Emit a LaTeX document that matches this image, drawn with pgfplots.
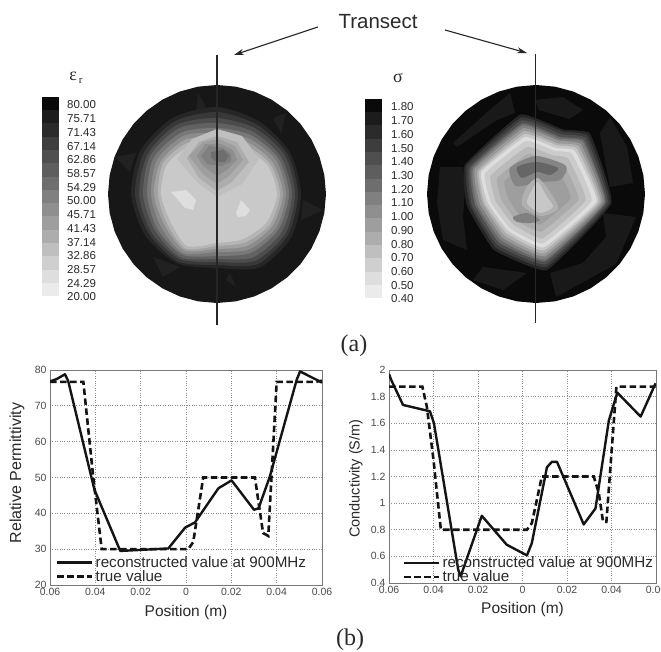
\documentclass[border=0pt]{standalone}
\usepackage{fontspec}
\setmainfont{Liberation Sans}
\newfontfamily\serifgr{Liberation Serif}
\usepackage{pgfplots}
\usetikzlibrary{arrows.meta}
\pgfplotsset{compat=1.18}
\definecolor{txt}{HTML}{2A2A2A}
\definecolor{axc}{HTML}{777777}
\pgfplotsset{
 discax/.style={scale only axis,width=218pt,height=218pt,anchor=south west,hide axis,
   xmin=-109,xmax=109,ymin=-109,ymax=109,clip=false},
 lay/.style={fill=black!#1,draw=none,smooth cycle,tension=0.45},
 pol/.style={fill=black!#1,draw=none,data cs=polar,smooth cycle,tension=0.45},
 pols/.style={fill=black!#1,draw=none,data cs=polar,smooth cycle,tension=0.2},
 lineax/.style={scale only axis,anchor=south west,
   axis line style={axc,line width=0.9pt},
   grid=major,grid style={dotted,line width=0.7pt,black!45},
   major tick length=0pt,
   tick label style={font=\fontsize{10.5}{11}\selectfont,text=txt!85},
   /pgf/number format/assume math mode=true,
   scaled x ticks=false,
   legend cell align=left,
   legend image code/.code={\draw[##1] (0pt,0pt) -- (30pt,0pt);\path (0pt,0pt) -- (35pt,0pt);},
   legend style={draw=none,fill=none,font=\fontsize{15.2}{13}\selectfont,text=txt,row sep=-2.5pt,inner sep=0pt},
   xtick={-0.06,-0.04,-0.02,0,0.02,0.04,0.06},
   xticklabels={0.06,0.04,0.02,0,0.02,0.04,0.06},
   xtick pos=left,ytick pos=left,
   every axis x label/.style={at={(axis description cs:0.5,-0.126)},anchor=center,font=\fontsize{15.5}{16}\selectfont,text=txt},
   xmin=-0.06,xmax=0.06},
 sol/.style={black!92,line width=2.4pt,line join=round},
 das/.style={black!92,line width=2.6pt,dash pattern=on 6.5pt off 3.5pt,line join=miter}
}
\begin{document}
\begin{tikzpicture}[x=1pt,y=1pt]
\useasboundingbox (0,0) rectangle (661,651);
\clip (0,0) rectangle (661,651);
\fill[white] (0,0) rectangle (661,651);

% ---------- disc 1 (relative permittivity) ----------
\begin{axis}[discax,at={(108pt,348pt)}]
\addplot[fill=black!91,draw=none,data cs=polar] coordinates {(0,109)(10,109)(20,109)(30,109)(40,109)(50,109)(60,109)(70,109)(80,109)(90,109)(100,109)(110,109)(120,109)(130,109)(140,109)(150,109)(160,109)(170,109)(180,109)(190,109)(200,109)(210,109)(220,109)(230,109)(240,109)(250,109)(260,109)(270,109)(280,109)(290,109)(300,109)(310,109)(320,109)(330,109)(340,109)(350,109)} --cycle;
\addplot[fill=black!87,draw=none] coordinates {(-19,101)(-21,82)(-11,87)} --cycle;
\addplot[fill=black!87,draw=none] coordinates {(69,81)(56,76)(64,60)} --cycle;
\addplot[fill=black!87,draw=none] coordinates {(-102,37)(-81,41)(-87,22)} --cycle;
\addplot[fill=black!87,draw=none] coordinates {(106,-16)(86,-6)(84,-26)} --cycle;
\addplot[fill=black!87,draw=none] coordinates {(-64,-63)(-54,-83)(-37,-73)} --cycle;
\addplot[fill=black!87,draw=none] coordinates {(9,-86)(19,-93)(13,-79)} --cycle;
\addplot[pol=85] coordinates {(0,84)(30,84)(60,84)(90,87)(120,88)(150,88)(180,86)(210,83)(240,80)(270,74)(300,85)(330,86)};
\addplot[pol=78] coordinates {(0,81)(30,81)(60,80)(90,82)(120,84)(150,84)(180,82)(210,79)(240,78)(270,71)(300,81)(330,82)};
\addplot[pol=70] coordinates {(0,78)(30,78)(60,76)(90,76)(120,80)(150,80)(180,78)(210,76)(240,75)(270,68)(300,77)(330,79)};
\addplot[pol=62] coordinates {(0,75)(30,74)(60,72)(90,71)(120,76)(150,77)(180,74)(210,72)(240,73)(270,65)(300,73)(330,75)};
\addplot[pol=53] coordinates {(0,72)(30,71)(60,68)(90,66)(120,71)(150,73)(180,70)(210,69)(240,70)(270,62)(300,68)(330,71)};
\addplot[pol=45] coordinates {(0,69)(30,68)(60,64)(90,61)(120,67)(150,69)(180,66)(210,65)(240,68)(270,58)(300,64)(330,68)};
\addplot[pol=37] coordinates {(0,66)(30,64)(60,60)(90,55)(120,63)(150,65)(180,63)(210,61)(240,65)(270,55)(300,60)(330,64)};
\addplot[pol=29] coordinates {(0,63)(30,61)(60,56)(90,50)(120,59)(150,62)(180,59)(210,58)(240,63)(270,52)(300,56)(330,61)};
\addplot[pol=21] coordinates {(0,60)(30,58)(60,52)(90,45)(120,55)(150,58)(180,56)(210,54)(240,60)(270,49)(300,52)(330,57)};
% hump
\addplot[fill=black!25,draw=none] coordinates {(-40,35)(-25,55)(0,65)(25,58)(42,35)(25,10)(0,-3)(-20,12)} --cycle;
\addplot[fill=black!32,draw=none] coordinates {(-30,36)(-18,52)(0,58)(20,52)(32,32)(15,12)(0,3)(-18,16)} --cycle;
\addplot[fill=black!38,draw=none] coordinates {(-28,38)(-14,52)(2,55)(18,48)(26,34)(12,18)(0,10)(-14,20)} --cycle;
\addplot[fill=black!44,draw=none] coordinates {(-20,38)(-12,50)(4,50)(16,44)(20,34)(10,24)(0,18)(-14,28)} --cycle;
\addplot[fill=black!50,draw=none] coordinates {(-16,38)(-8,48)(6,46)(14,40)(14,32)(4,28)(-10,30)} --cycle;
\addplot[fill=black!57,draw=none] coordinates {(-6,42)(6,44)(12,38)(8,32)(0,32)(-6,36)} --cycle;
% light patches
\addplot[fill=black!13,draw=none] coordinates {(-46,2)(-31,4)(-21,-6)(-24,-16)(-32,-14)} --cycle;
\addplot[fill=black!13,draw=none] coordinates {(19,-19)(24,-6)(33,-16)(29,-22)(21,-23)} --cycle;
\end{axis}

% ---------- disc 2 (conductivity) ----------
\begin{axis}[discax,at={(427pt,348pt)}]
\addplot[fill=black!96,draw=none,data cs=polar] coordinates {(0,109)(10,109)(20,109)(30,109)(40,109)(50,109)(60,109)(70,109)(80,109)(90,109)(100,109)(110,109)(120,109)(130,109)(140,109)(150,109)(160,109)(170,109)(180,109)(190,109)(200,109)(210,109)(220,109)(230,109)(240,109)(250,109)(260,109)(270,109)(280,109)(290,109)(300,109)(310,109)(320,109)(330,109)(340,109)(350,109)} --cycle;
\addplot[fill=black!90,draw=none] coordinates {(-1,94)(27,97)(47,84)(33,75)(3,84)} --cycle;
\addplot[fill=black!90,draw=none] coordinates {(-43,87)(-26,101)(-21,81)(-39,74)(-79,47)(-83,51)} --cycle;
\addplot[fill=black!90,draw=none] coordinates {(64,61)(74,77)(91,47)(97,11)(74,7)} --cycle;
\addplot[fill=black!90,draw=none] coordinates {(-96,27)(-73,27)(-71,4)(-73,-23)(-69,-56)(-93,-46)(-99,-9)} --cycle;
\addplot[fill=black!90,draw=none] coordinates {(-53,-73)(-9,-79)(-33,-96)(-63,-86)} --cycle;
\addplot[fill=black!90,draw=none] coordinates {(47,-69)(70,-43)(67,-19)(100,-23)(80,-70)(20,-103)(14,-79)} --cycle;
\addplot[pols=85] coordinates {(48,81)(67,70)(101,81)(158,77)(190,70)(233,70)(278,77)(353,76)};
\addplot[pols=77] coordinates {(48,78)(67,68)(101,78)(158,75)(190,67)(233,67)(278,74)(353,74)};
\addplot[pols=69] coordinates {(48,75)(67,65)(101,75)(158,72)(190,65)(233,64)(278,71)(353,72)};
\addplot[pols=59] coordinates {(48,72)(67,62)(101,72)(158,70)(190,62)(233,61)(278,68)(353,70)};
\addplot[pols=50] coordinates {(48,70)(67,60)(101,70)(158,68)(190,60)(233,58)(278,66)(353,69)};
\addplot[pols=40] coordinates {(48,67)(67,58)(101,67)(158,66)(190,57)(233,55)(278,63)(353,67)};
\addplot[pols=31] coordinates {(48,64)(67,55)(101,64)(158,63)(190,54)(233,52)(278,60)(353,65)};
\addplot[pols=22] coordinates {(48,61)(67,53)(101,61)(158,61)(190,52)(233,49)(278,57)(353,63)};
\addplot[pols=13] coordinates {(48,58)(67,50)(101,58)(158,59)(190,49)(233,46)(278,54)(353,61)};
\addplot[pols=20] coordinates {(48,54)(67,47)(101,54)(158,55)(190,46)(233,43)(278,50)(353,56)};
\addplot[pols=27] coordinates {(48,48)(67,42)(101,48)(158,49)(190,41)(233,38)(278,45)(353,50)};
\addplot[pols=33] coordinates {(48,41)(67,36)(101,41)(158,42)(190,35)(233,33)(278,38)(353,43)};
\addplot[pols=38] coordinates {(48,33)(67,30)(101,33)(158,34)(190,28)(233,27)(278,31)(353,35)};
\addplot[lay=48] coordinates {(-26,26)(0,38)(30,28)(24,14)(4,12)(-20,8)};
\addplot[lay=60] coordinates {(-19,27)(1,32)(22,26)(14,19)(1,22)(-14,16)};
\addplot[lay=31] coordinates {(-10,6)(2,16)(16,-1)(22,-15)(5,-22)(-14,-11)};
\addplot[lay=22] coordinates {(-4,4)(2,12)(11,-3)(17,-13)(4,-19)(-9,-9)};
\addplot[lay=50] coordinates {(-23,-23)(-9,-19)(4,-26)(-6,-29)(-19,-28)};
\end{axis}

% ---------- colour bars ----------
\begin{axis}[scale only axis,width=661pt,height=651pt,anchor=south west,at={(0pt,0pt)},hide axis,
  xmin=0,xmax=661,ymin=0,ymax=651,y dir=reverse,clip=false]
\addplot[fill=black!96,draw=none] coordinates {(42,97)(59,97)(59,110.3)(42,110.3)} --cycle;
\addplot[fill=black!89,draw=none] coordinates {(42,110.3)(59,110.3)(59,123.5)(42,123.5)} --cycle;
\addplot[fill=black!83,draw=none] coordinates {(42,123.5)(59,123.5)(59,136.8)(42,136.8)} --cycle;
\addplot[fill=black!76,draw=none] coordinates {(42,136.8)(59,136.8)(59,150.1)(42,150.1)} --cycle;
\addplot[fill=black!69,draw=none] coordinates {(42,150.1)(59,150.1)(59,163.3)(42,163.3)} --cycle;
\addplot[fill=black!63,draw=none] coordinates {(42,163.3)(59,163.3)(59,176.6)(42,176.6)} --cycle;
\addplot[fill=black!57,draw=none] coordinates {(42,176.6)(59,176.6)(59,189.9)(42,189.9)} --cycle;
\addplot[fill=black!50,draw=none] coordinates {(42,189.9)(59,189.9)(59,203.1)(42,203.1)} --cycle;
\addplot[fill=black!44,draw=none] coordinates {(42,203.1)(59,203.1)(59,216.4)(42,216.4)} --cycle;
\addplot[fill=black!38,draw=none] coordinates {(42,216.4)(59,216.4)(59,229.7)(42,229.7)} --cycle;
\addplot[fill=black!32,draw=none] coordinates {(42,229.7)(59,229.7)(59,242.9)(42,242.9)} --cycle;
\addplot[fill=black!25,draw=none] coordinates {(42,242.9)(59,242.9)(59,256.2)(42,256.2)} --cycle;
\addplot[fill=black!19,draw=none] coordinates {(42,256.2)(59,256.2)(59,269.5)(42,269.5)} --cycle;
\addplot[fill=black!13,draw=none] coordinates {(42,269.5)(59,269.5)(59,282.7)(42,282.7)} --cycle;
\addplot[fill=black!8,draw=none] coordinates {(42,282.7)(59,282.7)(59,296)(42,296)} --cycle;
\addplot[fill=black!96,draw=none] coordinates {(365,99)(382,99)(382,112.3)(365,112.3)} --cycle;
\addplot[fill=black!89,draw=none] coordinates {(365,112.3)(382,112.3)(382,125.5)(365,125.5)} --cycle;
\addplot[fill=black!83,draw=none] coordinates {(365,125.5)(382,125.5)(382,138.8)(365,138.8)} --cycle;
\addplot[fill=black!76,draw=none] coordinates {(365,138.8)(382,138.8)(382,152.1)(365,152.1)} --cycle;
\addplot[fill=black!69,draw=none] coordinates {(365,152.1)(382,152.1)(382,165.3)(365,165.3)} --cycle;
\addplot[fill=black!63,draw=none] coordinates {(365,165.3)(382,165.3)(382,178.6)(365,178.6)} --cycle;
\addplot[fill=black!57,draw=none] coordinates {(365,178.6)(382,178.6)(382,191.9)(365,191.9)} --cycle;
\addplot[fill=black!50,draw=none] coordinates {(365,191.9)(382,191.9)(382,205.1)(365,205.1)} --cycle;
\addplot[fill=black!44,draw=none] coordinates {(365,205.1)(382,205.1)(382,218.4)(365,218.4)} --cycle;
\addplot[fill=black!38,draw=none] coordinates {(365,218.4)(382,218.4)(382,231.7)(365,231.7)} --cycle;
\addplot[fill=black!32,draw=none] coordinates {(365,231.7)(382,231.7)(382,244.9)(365,244.9)} --cycle;
\addplot[fill=black!25,draw=none] coordinates {(365,244.9)(382,244.9)(382,258.2)(365,258.2)} --cycle;
\addplot[fill=black!19,draw=none] coordinates {(365,258.2)(382,258.2)(382,271.5)(365,271.5)} --cycle;
\addplot[fill=black!13,draw=none] coordinates {(365,271.5)(382,271.5)(382,284.7)(365,284.7)} --cycle;
\addplot[fill=black!8,draw=none] coordinates {(365,284.7)(382,284.7)(382,298)(365,298)} --cycle;
\end{axis}

% ---------- line charts ----------
\begin{axis}[lineax,width=272pt,height=215pt,at={(50pt,66pt)},
  ymin=20,ymax=80,ytick={20,30,40,50,60,70,80},
  every axis y label/.style={at={(axis description cs:-0.121,0.52)},anchor=center,rotate=90,font=\fontsize{16}{17}\selectfont,text=txt},
  xlabel={Position (m)},ylabel={Relative Permittivity},
  legend style={at={(axis cs:-0.0574,28.6)},anchor=north west}]
\addplot[sol] coordinates {(-0.06,76.8)(-0.057,77.5)(-0.0534,78.8)(-0.052,77)(-0.0404,46.6)(-0.029,29.5)(-0.0078,30.2)(-0.0004,36)(0.004,37.5)(0.0143,47)(0.0201,49.2)(0.03,41)(0.032,41.4)(0.037,50.3)(0.0488,77.2)(0.0503,79.6)(0.06,76.5)};
\addlegendentry{reconstructed value at 900MHz}
\addplot[das] coordinates {(-0.06,76.7)(-0.0453,76.7)(-0.0409,50)(-0.0372,30)(0.001,30)(0.0032,32)(0.0076,50)(0.0304,50)(0.034,34.5)(0.0363,33.7)(0.04,76.7)(0.057,76.7)(0.06,77)};
\addlegendentry{true value}
\end{axis}

\begin{axis}[lineax,width=267pt,height=213pt,at={(389pt,68pt)},
  ymin=0.4,ymax=2,ytick={0.4,0.6,0.8,1,1.2,1.4,1.6,1.8,2},
  every axis y label/.style={at={(axis description cs:-0.124,0.49)},anchor=center,rotate=90,font=\fontsize{14.5}{15}\selectfont,text=txt},
  xlabel={Position (m)},ylabel={Conductivity (S/m)},
  legend style={at={(axis cs:-0.0538,0.615)},anchor=north west}]
\addplot[sol] coordinates {(-0.06,1.97)(-0.059,1.925)(-0.0537,1.7375)(-0.0416,1.69)(-0.0398,1.6)(-0.0289,0.5)(-0.0278,0.45)(-0.0183,0.905)(-0.0071,0.6875)(0.002,0.6075)(0.0042,0.7)(0.011,1.27)(0.0132,1.31)(0.0155,1.31)(0.0275,0.84)(0.0328,0.96)(0.0388,1.62)(0.0426,1.83)(0.0531,1.65)(0.0598,1.9)};
\addlegendentry{reconstructed value at 900MHz}
\addplot[das] coordinates {(-0.06,1.875)(-0.045,1.875)(-0.043,1.725)(-0.04,1.325)(-0.0367,0.8)(0.002,0.8)(0.0042,0.85)(0.0087,1.2)(0.032,1.2)(0.0343,1.075)(0.0362,0.86)(0.0377,0.86)(0.0422,1.875)(0.0598,1.875)};
\addlegendentry{true value}
\end{axis}

% ---------- annotations ----------
\draw[line width=1.2pt,black!85] (217,596) -- (217,326);
\draw[line width=1.2pt,black!85] (535.5,597) -- (535.5,328);
\draw[-{Stealth[length=10pt,width=6pt]},line width=1.1pt,black!85] (318,624) -- (234,596);
\draw[-{Stealth[length=10pt,width=6pt]},line width=1.1pt,black!85] (445,621) -- (527,598);
\node[text=txt,font=\fontsize{20.5}{22}\selectfont] at (378,629) {Transect};
\node[text=txt,font=\serifgr\fontsize{24}{26}\selectfont] at (354,305) {(a)};
\node[text=txt,font=\serifgr\fontsize{24}{26}\selectfont] at (350,11) {(b)};
\node[text=txt,font=\serifgr\fontsize{18}{20}\selectfont] at (76,573) {ε\raisebox{-3pt}{\fontsize{11}{12}\selectfont\,r}};
\node[text=txt,font=\serifgr\fontsize{18}{20}\selectfont] at (398,573) {σ};
\foreach \t/\y in {80.00/105,75.71/118.7,71.43/132.4,67.14/146.1,62.86/159.8,58.57/173.5,54.29/187.2,50.00/201,45.71/214.7,41.43/228.4,37.14/242.1,32.86/255.8,28.57/269.5,24.29/283.2,20.00/297}
  \node[anchor=west,inner sep=0pt,text=txt,font=\fontsize{11.5}{12}\selectfont] at (67,651-\y) {\t};
\foreach \t/\y in {1.80/107,1.70/120.7,1.60/134.4,1.50/148.1,1.40/161.8,1.30/175.5,1.20/189.2,1.10/203,1.00/216.7,0.90/230.4,0.80/244.1,0.70/257.8,0.60/271.5,0.50/285.2,0.40/299}
  \node[anchor=west,inner sep=0pt,text=txt,font=\fontsize{11.5}{12}\selectfont] at (391,651-\y) {\t};
\end{tikzpicture}
\end{document}
